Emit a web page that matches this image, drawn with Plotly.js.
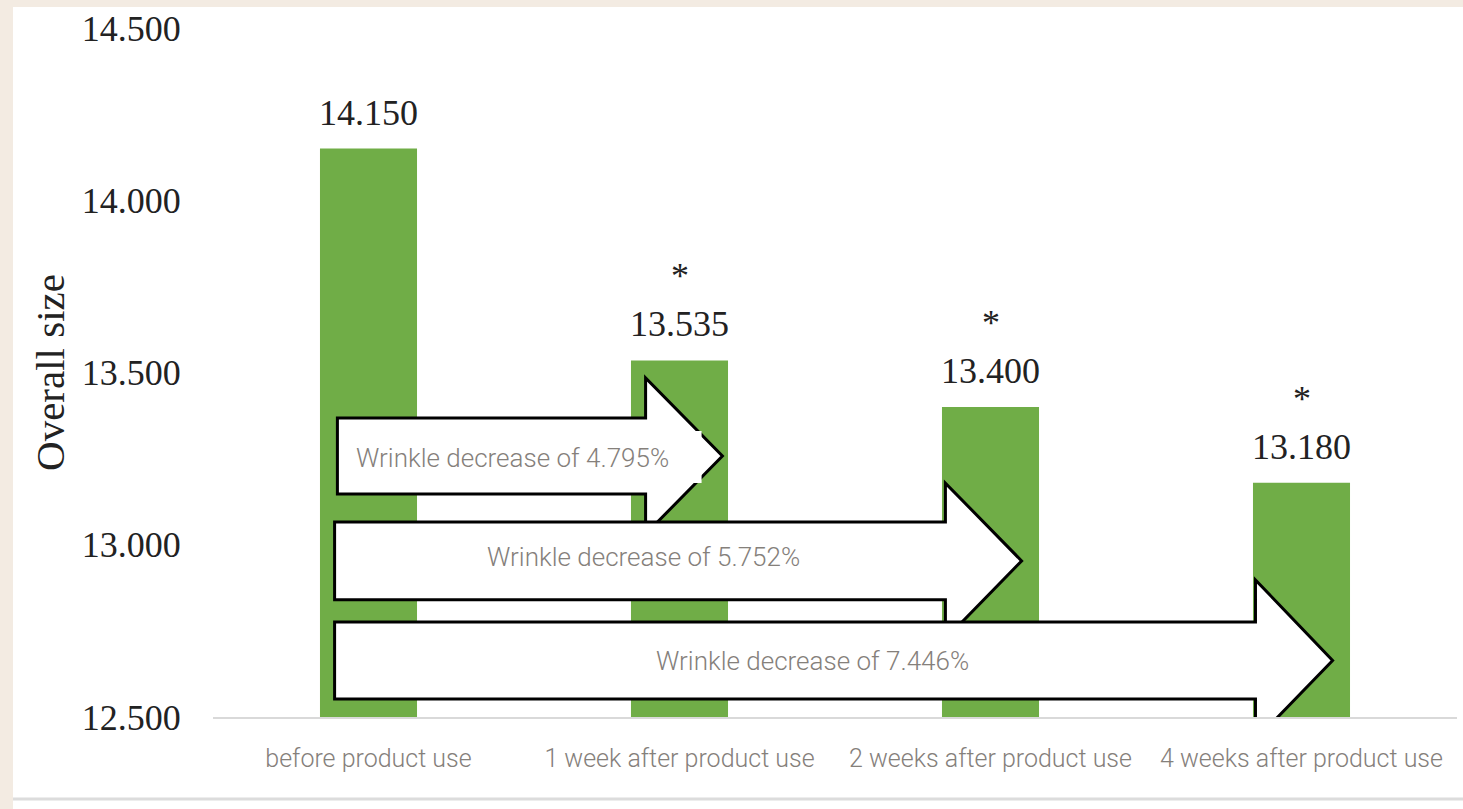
<!DOCTYPE html>
<html>
<head>
<meta charset="utf-8">
<script src="https://cdn.plot.ly/plotly-3.0.1.min.js"></script>
<style>
  html, body { margin: 0; padding: 0; background: #F3EBE2; width: 1463px; height: 809px; overflow: hidden; }
  #chart { position: absolute; left: 13px; top: 7px; width: 1450px; height: 802px; }
</style>
</head>
<body>
<div id="chart"></div>
<script>
const categories = ['before product use', '1 week after product use', '2 weeks after product use', '4 weeks after product use'];
const values = [14.150, 13.535, 13.400, 13.180];
const valueLabels = ['14.150', '13.535', '13.400', '13.180'];
const significant = [false, true, true, true];
const decreaseLabels = ['Wrinkle decrease of 4.795%', 'Wrinkle decrease of 5.752%', 'Wrinkle decrease of 7.446%'];
const yTickVals = [12.5, 13.0, 13.5, 14.0, 14.5];
const yTickText = ['12.500', '13.000', '13.500', '14.000', '14.500'];

const serif = '"Liberation Serif", "DejaVu Serif", serif';
const sans = 'Roboto, "Noto Sans", sans-serif';

const trace = {
  type: 'bar',
  x: categories,
  y: values,
  marker: { color: '#70AD47' },
  hoverinfo: 'skip'
};

// arrow geometry (x in category index units, y in data units)
const arrows = [
  { x0: -0.100, xb: 0.891, xt: 1.138, yb0: 13.147, yb1: 13.368, yh0: 13.031, yh1: 13.484 },
  { x0: -0.109, xb: 1.855, xt: 2.100, yb0: 12.840, yb1: 13.066, yh0: 12.726, yh1: 13.179 },
  { x0: -0.109, xb: 2.852, xt: 3.100, yb0: 12.552, yb1: 12.776, yh0: 12.433, yh1: 12.898 }
];
const textPos = [ { x: 0.463, y: 13.252 }, { x: 0.884, y: 12.964 }, { x: 1.428, y: 12.663 } ];

const shapes = [];
arrows.forEach(a => {
  const yc = (a.yb0 + a.yb1) / 2;
  shapes.push({
    type: 'path', xref: 'x', yref: 'y',
    path: `M ${a.x0} ${a.yb0} L ${a.x0} ${a.yb1} L ${a.xb} ${a.yb1} L ${a.xb} ${a.yh1} L ${a.xt} ${yc} L ${a.xb} ${a.yh0} L ${a.xb} ${a.yb0} Z`,
    fillcolor: '#FFFFFF', line: { color: '#000000', width: 3 }, layer: 'above'
  });
});
// text box of the first arrow covering part of its outline
shapes.push({ type: 'rect', xref: 'x', yref: 'y', x0: -0.093, x1: 1.071, y0: 13.179, y1: 13.330,
  fillcolor: '#FFFFFF', line: { width: 0 }, layer: 'above' });
// bottom separator line
shapes.push({ type: 'line', xref: 'paper', yref: 'paper', x0: -0.17, x1: 1.01, y0: -0.119, y1: -0.119,
  line: { color: '#DCDCDC', width: 3 } });

const annotations = [];
categories.forEach((c, i) => {
  annotations.push({ x: c, y: values[i], xref: 'x', yref: 'y', text: valueLabels[i], showarrow: false,
    yanchor: 'middle', yshift: 36, font: { family: serif, size: 36, color: '#222222' } });
  if (significant[i]) {
    annotations.push({ x: c, y: values[i], xref: 'x', yref: 'y', text: '*', showarrow: false,
      yanchor: 'middle', yshift: 84, font: { family: serif, size: 36, color: '#222222' } });
  }
});
decreaseLabels.forEach((t, i) => {
  annotations.push({ x: textPos[i].x, y: textPos[i].y, xref: 'x', yref: 'y', text: t, showarrow: false,
    font: { family: sans, size: 26, weight: 300, color: '#85807B' } });
});

const layout = {
  width: 1450, height: 802,
  margin: { l: 200, r: 6, t: 21, b: 92 },
  paper_bgcolor: '#FFFFFF', plot_bgcolor: '#FFFFFF',
  showlegend: false,
  bargap: 0.688,
  xaxis: {
    type: 'category',
    showgrid: false, zeroline: false,
    showline: true, linecolor: '#D9D9D9', linewidth: 2,
    ticks: 'outside', ticklen: 18, tickcolor: 'rgba(0,0,0,0)',
    tickfont: { family: sans, size: 25, weight: 300, color: '#85807B' },
    range: [-0.5, 3.5]
  },
  yaxis: {
    range: [12.5, 14.5],
    tickvals: yTickVals, ticktext: yTickText,
    showgrid: false, zeroline: false, showline: false,
    ticks: 'outside', ticklen: 24, tickcolor: 'rgba(0,0,0,0)',
    tickfont: { family: serif, size: 36, color: '#222222' },
    title: { text: 'Overall size', standoff: 4, font: { family: serif, size: 41, color: '#222222' } }
  },
  shapes: shapes,
  annotations: annotations
};

Plotly.newPlot('chart', [trace], layout, { staticPlot: true, displayModeBar: false });
</script>
</body>
</html>
